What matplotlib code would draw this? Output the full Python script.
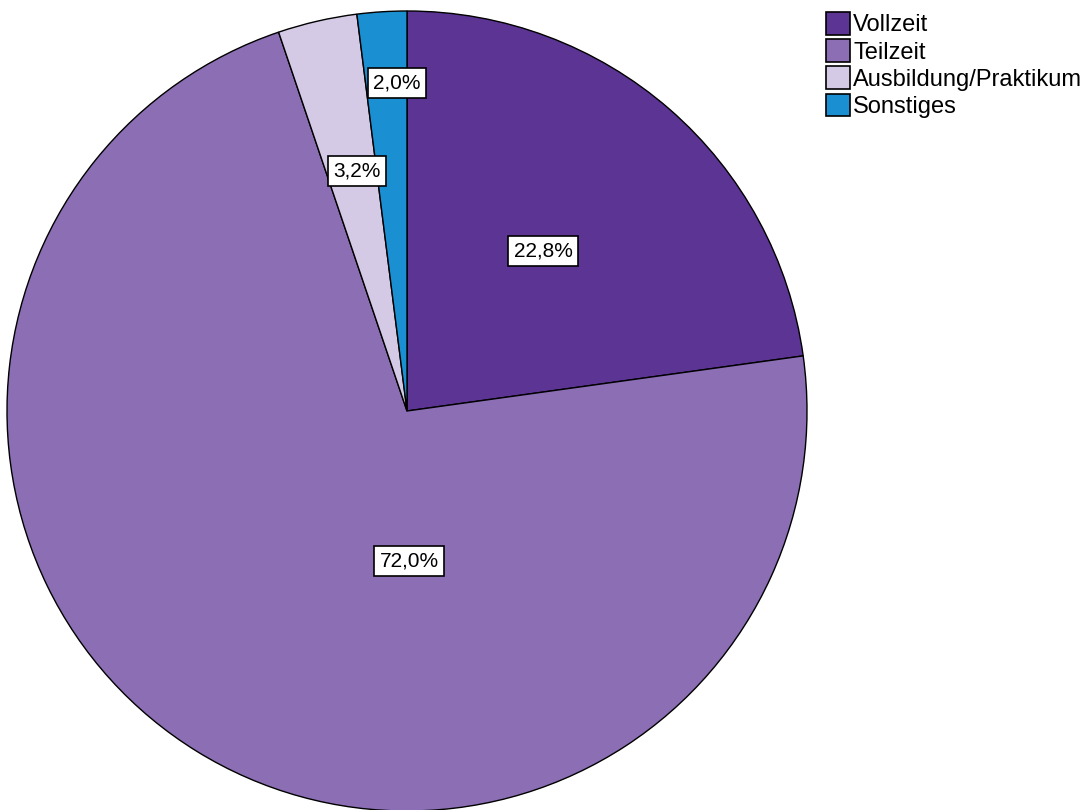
import matplotlib
matplotlib.use("Agg")
import matplotlib.pyplot as plt
from matplotlib.patches import Patch

plt.rcParams['font.family'] = ['Liberation Sans', 'DejaVu Sans']

# data
categories = ["Vollzeit", "Teilzeit", "Ausbildung/Praktikum", "Sonstiges"]
shares = [22.8, 72.0, 3.2, 2.0]
pct_labels = ["22,8%", "72,0%", "3,2%", "2,0%"]
colors = ["#5b3494", "#8b6eb4", "#d5cae6", "#1a8fd2"]
# label positions in radius units (as placed in the original)
label_pos = [(0.34, 0.40), (0.005, -0.375), (-0.125, 0.60), (-0.025, 0.82)]

W, H = 1089, 810
cx, cy, R = 407, 411, 400  # pie centre / radius in pixels

fig = plt.figure(figsize=(W / 100, H / 100), dpi=100)
ax = fig.add_axes([0, 0, 1, 1])

ax.pie(shares, colors=colors, startangle=90, counterclock=False, radius=1,
       wedgeprops=dict(edgecolor="black", linewidth=1), frame=True)
ax.set_xlim(-cx / R, (W - cx) / R)
ax.set_ylim(-(H - cy) / R, cy / R)
ax.set_aspect("auto")
ax.axis("off")

for txt, (x, y) in zip(pct_labels, label_pos):
    ax.text(x, y, txt, ha="center", va="center", fontsize=15,
            bbox=dict(boxstyle="square,pad=0.25", facecolor="white",
                      edgecolor="black", linewidth=1.2))

handles = [Patch(facecolor=c, edgecolor="black", linewidth=1.2) for c in colors]
fig.legend(handles, categories, loc="upper left",
           bbox_to_anchor=(826 / W, 1 - 12 / H), frameon=False,
           fontsize=17, handlelength=1.0, handleheight=1.1,
           handletextpad=0.15, labelspacing=0.12, borderaxespad=0,
           borderpad=0)

fig.savefig("out.png", dpi=100)
